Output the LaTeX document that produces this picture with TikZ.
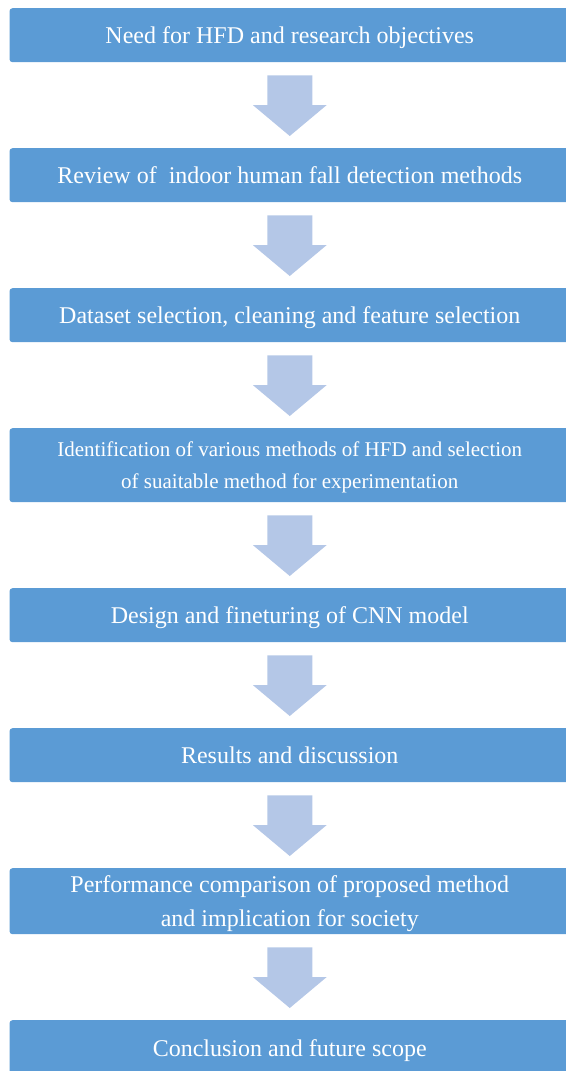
\documentclass[tikz,border=0pt]{standalone}
\usepackage{fontspec}
\setmainfont{Liberation Serif}
\usetikzlibrary{calc}
\definecolor{boxblue}{HTML}{5B9BD5}
\definecolor{arrowblue}{HTML}{B4C7E7}
\tikzset{
  stage/.style={rectangle, rounded corners=3pt, fill=boxblue, draw=none,
    text=white, anchor=north, minimum width=560.5pt, inner sep=0pt,
    text depth=0pt, align=center, font=\fontsize{24}{34}\selectfont},
  oneline/.style={text height=17pt},
  smalltext/.style={font=\fontsize{21}{32}\selectfont},
  flowarrow/.style={fill=arrowblue, draw=none}
}
% block arrow from the bottom of one stage to the top of the next
\newcommand{\stagearrow}[2]{%
  \fill[flowarrow]
    ($(#1.south)+(-22.5,13)$) -- ($(#1.south)+(22.5,13)$)
    -- ($(#2.north)+(22.5,-43)$) -- ($(#2.north)+(37,-43)$)
    -- ($(#2.north)+(0,-12)$)
    -- ($(#2.north)+(-37,-43)$) -- ($(#2.north)+(-22.5,-43)$) -- cycle;}
\begin{document}
\begin{tikzpicture}[x=1pt,y=-1pt]
  \useasboundingbox (0,0) rectangle (565,1071);
  \node[stage, oneline, minimum height=54pt] (s1) at (289.75,8)
    {Need for HFD and research objectives};
  \node[stage, oneline, minimum height=54pt] (s2) at (289.75,148)
    {Review of\ \ indoor human fall detection methods};
  \node[stage, oneline, minimum height=54pt] (s3) at (289.75,288)
    {Dataset selection, cleaning and feature selection};
  \node[stage, smalltext, minimum height=74pt] (s4) at (289.75,428)
    {Identification of various methods of HFD and selection\\
     of suaitable method for experimentation};
  \node[stage, oneline, minimum height=54pt] (s5) at (289.75,588)
    {Design and fineturing of CNN model};
  \node[stage, oneline, minimum height=54pt] (s6) at (289.75,728)
    {Results and discussion};
  \node[stage, minimum height=66pt] (s7) at (289.75,868)
    {Performance comparison of proposed method\\
     and implication for society};
  \node[stage, oneline, minimum height=56pt] (s8) at (289.75,1020)
    {Conclusion and future scope};
  \stagearrow{s1}{s2}
  \stagearrow{s2}{s3}
  \stagearrow{s3}{s4}
  \stagearrow{s4}{s5}
  \stagearrow{s5}{s6}
  \stagearrow{s6}{s7}
  \stagearrow{s7}{s8}
\end{tikzpicture}
\end{document}
